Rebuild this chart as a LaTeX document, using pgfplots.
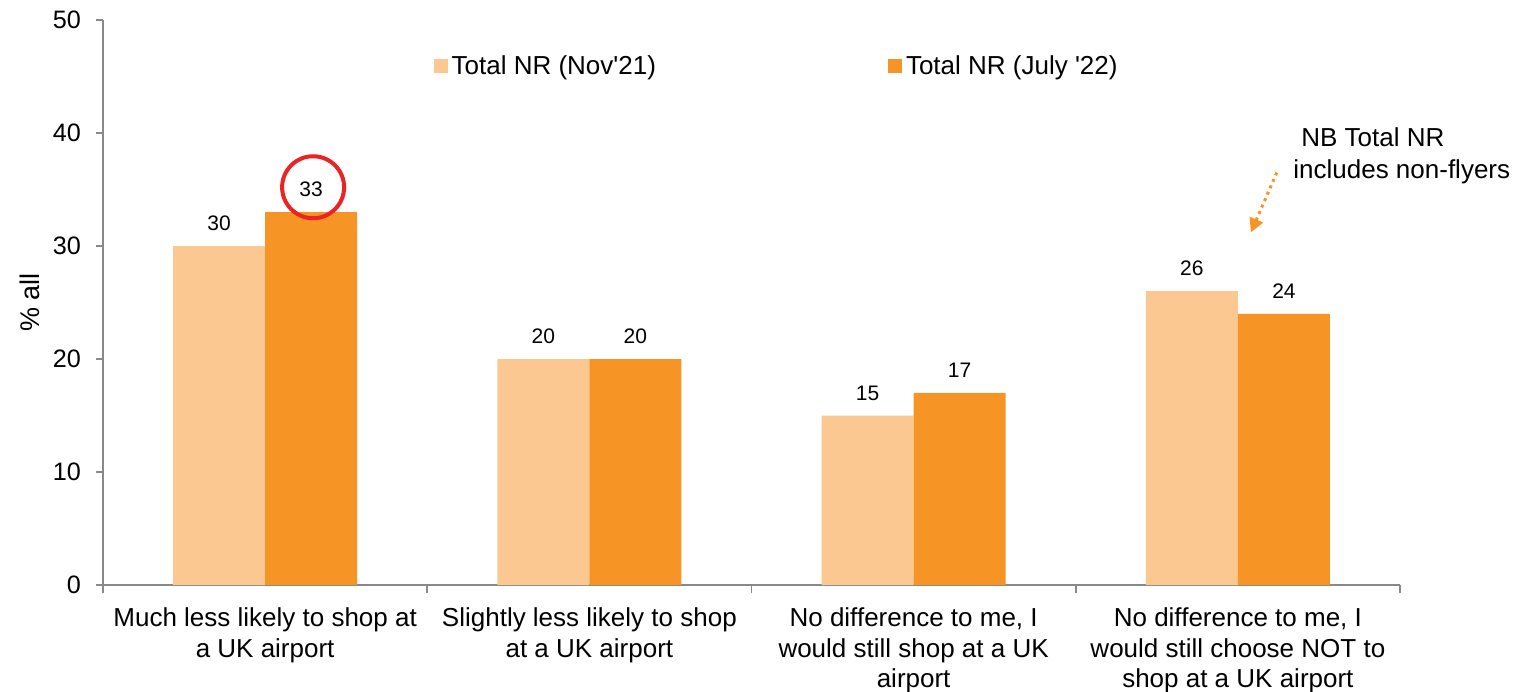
\documentclass[border=0pt]{standalone}
\usepackage{pgfplots}
\pgfplotsset{compat=1.18}
\usetikzlibrary{arrows.meta}
\usepackage{fontspec}
\setmainfont{Liberation Sans}
\definecolor{lightor}{RGB}{250,200,144}
\definecolor{darkor}{RGB}{247,148,38}
\definecolor{axgray}{RGB}{137,137,137}
\definecolor{circred}{RGB}{235,35,35}
\begin{document}
\begin{tikzpicture}
\begin{axis}[
  at={(0pt,0pt)}, anchor=south west,
  scale only axis, width=648.5pt, height=282.5pt,
  xmin=-0.5, xmax=3.5, ymin=0, ymax=50,
  clip=false,
  axis lines=left, axis line style={-, axgray, line width=0.9pt},
  ytick={0,10,...,50},
  xtick={0,1,2,3},
  xticklabels={{Much less likely to shop at\\a UK airport},{Slightly less likely to shop\\at a UK airport},{No difference to me, I\\would still shop at a UK\\airport},{No difference to me, I\\would still choose NOT to\\shop at a UK airport}},
  minor xtick={-0.5,0.5,1.5,2.5,3.5},
  major x tick style={draw=none},
  minor x tick style={axgray, line width=0.9pt},
  y tick style={axgray, line width=0.9pt},
  tick align=outside,
  major tick length=3.5pt, minor tick length=4pt,
  xticklabel style={align=center, font=\fontsize{13}{15.25}\selectfont, yshift=-4.5pt},
  yticklabel style={font=\fontsize{12.6}{14}\selectfont, xshift=-4pt},
  /pgf/number format/assume math mode=true,
  ylabel={\% all},
  ylabel style={at={(axis description cs:-0.0563,0.5)}, anchor=center, font=\fontsize{13.5}{15}\selectfont},
  ybar=0pt, bar width=0.284,
  nodes near coords,
  nodes near coords style={font=\fontsize{10.5}{12}\selectfont, anchor=south, yshift=4pt, black},
  legend columns=2,
  legend style={draw=none, fill=none, at={(axis cs:0.50,45.9)}, anchor=west,
    font=\fontsize{13}{15}\selectfont,
    /tikz/every even column/.append style={column sep=114pt}},
  legend image code/.code={\fill[#1] (0pt,-3.5pt) rectangle (7pt,3.5pt);},
]
\addplot[fill=lightor, draw=none] coordinates {(0,30) (1,20) (2,15) (3,26)};
\addlegendentry{Total NR (Nov\textquotesingle 21)}
\addplot[fill=darkor, draw=none] coordinates {(0,33) (1,20) (2,17) (3,24)};
\addlegendentry{Total NR (July \textquotesingle 22)}
\draw[circred, line width=2pt] (axis cs:0.148,35.2) circle[radius=15.5pt];
\draw[darkor, line width=1.5pt, dotted, -{Triangle[length=7pt,width=7pt]}] (axis cs:3.12,36.5) -- (axis cs:3.04,31.2);
\node[anchor=west, align=left, font=\fontsize{13}{16}\selectfont, inner sep=0pt] at (axis cs:3.170,37.96) {\hspace*{4pt}NB Total NR\\includes non-flyers};
\end{axis}
\pgfresetboundingbox
\path[use as bounding box] (-51.5pt,-53pt) rectangle (711.5pt,292.5pt);
\end{tikzpicture}
\end{document}
